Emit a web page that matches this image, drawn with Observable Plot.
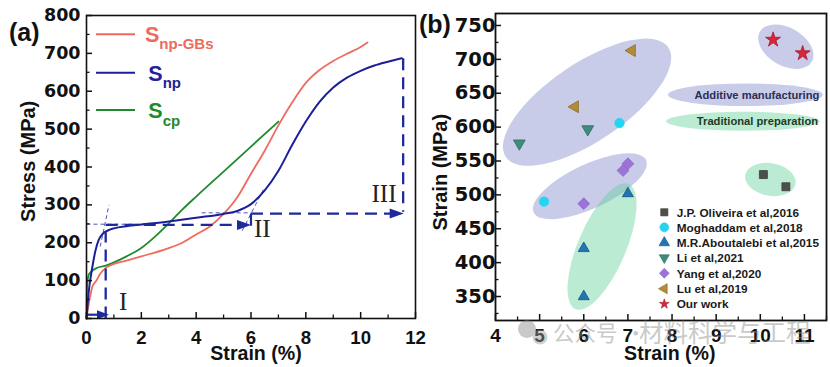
<!DOCTYPE html>
<html>
<head>
<meta charset="utf-8">
<script src="https://cdn.jsdelivr.net/npm/d3@7"></script>
<script src="https://cdn.jsdelivr.net/npm/@observablehq/plot@0.6"></script>
<style>
  html, body { margin: 0; padding: 0; background: #fff; }
  #wrap { position: relative; width: 830px; height: 367px; overflow: hidden; background: #fff; }
  #wrap > svg { position: absolute; top: 0; overflow: visible; }
</style>
</head>
<body>
<div id="wrap"></div>
<script>
// ================= Panel (a) data =================
const npgbStrain = [0, 0.1, 0.21, 0.36, 0.5, 0.73, 1, 1.46, 2, 2.92, 3.5, 4, 4.5, 5, 5.5, 6, 6.5, 7, 7.5, 8, 8.5, 9, 9.5, 10, 10.25];
const npgbStress = [0, 45, 83, 100, 118, 135, 144, 153, 164, 184, 200, 222, 243, 276, 320, 382, 443, 510, 570, 622, 656, 680, 699, 717, 729];
const npStrain = [0, 0.08, 0.2, 0.33, 0.45, 0.6, 0.8, 1, 1.5, 2, 3, 4, 5, 5.5, 6, 6.5, 7, 7.5, 8, 8.5, 9, 9.5, 10, 10.5, 11, 11.5];
const npStress = [0, 70, 130, 180, 208, 224, 233, 238, 244, 248, 256, 266, 276, 284, 302, 338, 390, 458, 520, 572, 610, 636, 654, 668, 678, 687];
const cpStrain = [0, 0.01, 0.03, 0.1, 0.4, 0.73, 1, 1.46, 2, 2.5, 2.92, 3.5, 4, 5, 6, 7];
const cpStress = [0, 60, 95, 118, 134, 140, 148, 164, 186, 216, 245, 288, 322, 388, 454, 520];
const curveNames = ["np-GBs", "np", "cp"];

// guide segments [x1, y1, x2, y2] in data units
const thickDashGuides = [[0.7, 0, 0.7, 228], [0.7, 247, 5.9, 247], [6.0, 277, 11.45, 277], [11.55, 687, 11.55, 282]];
const solidGuides = [[0, 10, 0.5, 10], [6.0, 245, 6.0, 277]];
const thinDashGuides = [[0.5, 190, 0.82, 300], [0, 249, 2.4, 249], [5.68, 232, 6.45, 340], [4.2, 279, 6.0, 279]];
const smallArrowTips = [[0.82, 10]];
const bigArrowTips = [[6.0, 247], [11.57, 277]];
const stageLabels = ["I", "II", "III"];
const stageX = [1.34, 6.41, 10.85];
const stageY = [43, 237, 329];

const aXTicks = [0, 2, 4, 6, 8, 10, 12];
const aXMinor = [1, 3, 5, 7, 9, 11];
const aYTicks = [0, 100, 200, 300, 400, 500, 600, 700, 800];
const aYMinor = [50, 150, 250, 350, 450, 550, 650, 750];

// ================= Panel (b) data =================
const refNames = ["J.P. Oliveira et al,2016", "Moghaddam et al,2018", "M.R.Aboutalebi et al,2015", "Li et al,2021", "Yang et al,2020", "Lu et al,2019", "Our work"];
const oliveiraX = [10.07, 10.58], oliveiraY = [530, 512];
const moghaddamX = [6.81, 5.10], moghaddamY = [606, 490];
const aboutalebiX = [7.0, 6.0, 6.0], aboutalebiY = [502, 421, 350];
const liX = [4.54, 6.09], liY = [576, 597];
const yangX = [6.0, 6.89, 7.0], yangY = [487, 536, 546];
const luX = [5.8, 7.09], luY = [630, 713];
const ourX = [10.29, 10.96], ourY = [729, 709];

// grouping ellipses (centre in data units; kind: am = additive manufacturing, tp = traditional)
const ellipseX = [6.086, 6.149, 6.425, 10.59, 10.24, 9.674, 9.618];
const ellipseY = [636, 512, 423, 718, 522, 647, 608];
const ellipseKind = ["am", "am", "tp", "am", "tp", "am", "tp"];
const groupNames = ["Additive manufacturing", "Traditional preparation"];

const bXTicks = [4, 5, 6, 7, 8, 9, 10, 11];
const bXMinor = [4.5, 5.5, 6.5, 7.5, 8.5, 9.5, 10.5, 11.5];
const bYTicks = [350, 400, 450, 500, 550, 600, 650, 700, 750];
const bYMinor = [325, 375, 425, 475, 525, 575, 625, 675, 725];

// ================= styles =================
const SANS = "Liberation Sans, Arial, sans-serif";
const WIDE = "DejaVu Sans, Verdana, sans-serif";
const cRed = "#f06a5d", cBlue = "#1c1f98", cGreen = "#1f8a2d", cGuide = "#1d2a9c";
const ellShape = { rx: [98, 62, 68, 30, 25.5, 77.5, 76.7], ry: [39, 22, 24, 19, 16.3, 11.3, 9.5], rot: [-34, -25, -67, 30, 10, 0, 0] };
const ellFill = { am: "#7b86c8", tp: "#5fcf95" };

// custom symbols
const arrowHead = (L, h) => ({ draw(ctx) { ctx.moveTo(0, 0); ctx.lineTo(-L, -h); ctx.lineTo(-L, h); ctx.closePath(); } });
const triDown = { draw(ctx, size) { const R = Math.sqrt(size), c = R * Math.cos(Math.PI / 6); ctx.moveTo(0, R); ctx.lineTo(-c, -R / 2); ctx.lineTo(c, -R / 2); ctx.closePath(); } };
const triLeft = { draw(ctx, size) { const R = Math.sqrt(size), c = R * Math.cos(Math.PI / 6); ctx.moveTo(-R, 0); ctx.lineTo(R / 2, -c); ctx.lineTo(R / 2, c); ctx.closePath(); } };

const series = [
  { name: refNames[0], xs: oliveiraX, ys: oliveiraY, symbol: d3.symbolSquare, fill: "#4b504d", stroke: "#3a3f3c", r: 4.5, lsize: 52 },
  { name: refNames[1], xs: moghaddamX, ys: moghaddamY, symbol: d3.symbolCircle, fill: "#25d5f0", stroke: "#25d5f0", r: 4.7, lsize: 62 },
  { name: refNames[2], xs: aboutalebiX, ys: aboutalebiY, symbol: d3.symbolTriangle, fill: "#2077b8", stroke: "#17507e", r: 4.1, lsize: 48 },
  { name: refNames[3], xs: liX, ys: liY, symbol: triDown, fill: "#3f8c7c", stroke: "#2f6a5e", r: 3.85, lsize: 34 },
  { name: refNames[4], xs: yangX, ys: yangY, symbol: d3.symbolDiamond2, fill: "#9c74d8", stroke: "#8a62c8", r: 5.3, lsize: 62 },
  { name: refNames[5], xs: luX, ys: luY, symbol: triLeft, fill: "#b38d35", stroke: "#8a6a22", r: 3.85, lsize: 34 },
  { name: refNames[6], xs: ourX, ys: ourY, symbol: d3.symbolStar, fill: "#d9263a", stroke: "#a8182a", r: 4.7, lsize: 30 }
];

const W = 415, H = 367;

// ================= Panel (a) =================
const aM = { top: 15, right: 0, bottom: 49, left: 86 };
const aIH = H - aM.top - aM.bottom, aIW = W - aM.left - aM.right;
const curveData = [
  d3.zip(npgbStrain, npgbStress).map(([x, y]) => ({ x, y, s: curveNames[0] })),
  d3.zip(npStrain, npStress).map(([x, y]) => ({ x, y, s: curveNames[1] })),
  d3.zip(cpStrain, cpStress).map(([x, y]) => ({ x, y, s: curveNames[2] }))
];
const seg = (arr) => arr.map(([x1, y1, x2, y2]) => ({ x1, y1, x2, y2 }));

const plotA = Plot.plot({
  width: W, height: H,
  marginTop: aM.top, marginRight: aM.right, marginBottom: aM.bottom, marginLeft: aM.left,
  x: { domain: [0, 12] },
  y: { domain: [0, 800] },
  style: { background: "transparent", overflow: "visible", fontFamily: SANS, color: "#111" },
  marks: [
    Plot.link(seg(thinDashGuides), { x1: "x1", y1: "y1", x2: "x2", y2: "y2", stroke: cGuide, strokeWidth: 1, strokeDasharray: "4,3", strokeOpacity: 0.8 }),
    Plot.line(curveData[2], { x: "x", y: "y", stroke: cGreen, strokeWidth: 1.8, curve: "monotone-x" }),
    Plot.line(curveData[0], { x: "x", y: "y", stroke: cRed, strokeWidth: 1.8, curve: "monotone-x" }),
    Plot.line(curveData[1], { x: "x", y: "y", stroke: cBlue, strokeWidth: 2, curve: "monotone-x" }),
    Plot.link(seg(thickDashGuides), { x1: "x1", y1: "y1", x2: "x2", y2: "y2", stroke: cGuide, strokeWidth: 2.3, strokeDasharray: "12,7" }),
    Plot.link(seg(solidGuides), { x1: "x1", y1: "y1", x2: "x2", y2: "y2", stroke: cGuide, strokeWidth: 2.2 }),
    Plot.dot(smallArrowTips, { x: d => d[0], y: d => d[1], symbol: arrowHead(12, 4.5), fill: cGuide, stroke: "none", r: 3 }),
    Plot.dot(bigArrowTips, { x: d => d[0], y: d => d[1], symbol: arrowHead(14, 5), fill: cGuide, stroke: "none", r: 3 }),
    Plot.text(stageLabels, { x: (d, i) => stageX[i], y: (d, i) => stageY[i], text: d => d, fontFamily: "Liberation Serif, Times New Roman, serif", fontSize: 25, fill: "#222" }),
    Plot.frame({ stroke: "#111", strokeWidth: 1.6 }),
    Plot.tickX(aXTicks, { x: d => d, insetTop: aIH - 6, stroke: "#111", strokeWidth: 1.5 }),
    Plot.tickX(aXMinor, { x: d => d, insetTop: aIH - 3.5, stroke: "#111", strokeWidth: 1.3 }),
    Plot.tickY(aYTicks, { y: d => d, insetRight: aIW - 6, stroke: "#111", strokeWidth: 1.5 }),
    Plot.tickY(aYMinor, { y: d => d, insetRight: aIW - 3.5, stroke: "#111", strokeWidth: 1.3 }),
    Plot.axisX({ ticks: aXTicks, tickSize: 0, tickPadding: 12, tickFormat: d => String(d), label: null, fontSize: 18.6, fontWeight: "bold", fontFamily: SANS, fill: "#111" }),
    Plot.axisY({ ticks: aYTicks, tickSize: 0, tickPadding: 6, tickFormat: d => String(d), label: null, fontSize: 17.5, fontWeight: "bold", fontFamily: WIDE, fill: "#111" }),
    Plot.text(["Strain (%)"], { text: d => d, frameAnchor: "bottom", textAnchor: "middle", lineAnchor: "middle", dx: 5, dy: 35.5, fontSize: 19.6, fontWeight: "bold", fontFamily: SANS, fill: "#111" }),
    Plot.text(["Stress (MPa)"], { text: d => d, frameAnchor: "left", textAnchor: "middle", lineAnchor: "middle", dx: -58, dy: -5.7, rotate: -90, fontSize: 20, fontWeight: "bold", fontFamily: SANS, fill: "#111" })
  ]
});

// ================= Panel (b) =================
const bM = { top: 13, right: 4, bottom: 47, left: 80 };
const bIH = H - bM.top - bM.bottom, bIW = W - bM.left - bM.right;

const ellipseLayer = (index, scales) => {
  const g = d3.create("svg:g");
  ellipseX.forEach((x, i) => {
    g.append("ellipse")
      .attr("transform", `translate(${scales.x(x)},${scales.y(ellipseY[i])}) rotate(${ellShape.rot[i]})`)
      .attr("rx", ellShape.rx[i]).attr("ry", ellShape.ry[i])
      .attr("fill", ellFill[ellipseKind[i]]).attr("fill-opacity", 0.42);
  });
  return g.node();
};

const pointMarks = series.map(s => Plot.dot(d3.zip(s.xs, s.ys), {
  x: d => d[0], y: d => d[1], symbol: s.symbol, r: s.r, fill: s.fill, stroke: s.stroke, strokeWidth: 0.8
}));

const plotB = Plot.plot({
  width: W, height: H,
  marginTop: bM.top, marginRight: bM.right, marginBottom: bM.bottom, marginLeft: bM.left,
  x: { domain: [4, 11.5] },
  y: { domain: [314.6, 767.7] },
  style: { background: "transparent", overflow: "visible", fontFamily: SANS, color: "#111" },
  marks: [
    ellipseLayer,
    Plot.text([groupNames[0]], { x: ellipseX[5], y: ellipseY[5], text: d => d, dx: 11, fontSize: 11.2, fontWeight: "bold", fontFamily: SANS, fill: "#2b2e58" }),
    Plot.text([groupNames[1]], { x: ellipseX[6], y: ellipseY[6], text: d => d, dx: 14, fontSize: 11.2, fontWeight: "bold", fontFamily: SANS, fill: "#1d3b24" }),
    ...pointMarks,
    Plot.frame({ stroke: "#111", strokeWidth: 1.8 }),
    Plot.tickX(bXTicks, { x: d => d, insetTop: bIH - 6, stroke: "#111", strokeWidth: 1.5 }),
    Plot.tickX(bXMinor, { x: d => d, insetTop: bIH - 3.5, stroke: "#111", strokeWidth: 1.3 }),
    Plot.tickY(bYTicks, { y: d => d, insetRight: bIW - 6, stroke: "#111", strokeWidth: 1.5 }),
    Plot.tickY(bYMinor, { y: d => d, insetRight: bIW - 3.5, stroke: "#111", strokeWidth: 1.3 }),
    Plot.axisX({ ticks: bXTicks, tickSize: 0, tickPadding: 8, tickFormat: d => String(d), label: null, fontSize: 19, fontWeight: "bold", fontFamily: SANS, fill: "#111" }),
    Plot.axisY({ ticks: bYTicks, tickSize: 0, tickPadding: 0, tickFormat: d => String(d), label: null, fontSize: 19.5, fontWeight: "bold", fontFamily: WIDE, fill: "#111" }),
    Plot.text(["Strain (%)"], { text: d => d, frameAnchor: "bottom", textAnchor: "middle", lineAnchor: "middle", dx: 8.8, dy: 33, fontSize: 19.6, fontWeight: "bold", fontFamily: SANS, fill: "#111" }),
    Plot.text(["Strain (MPa)"], { text: d => d, frameAnchor: "left", textAnchor: "middle", lineAnchor: "middle", dx: -55, dy: 5.2, rotate: -90, fontSize: 20, fontWeight: "bold", fontFamily: SANS, fill: "#111" })
  ]
});

const wrap = document.getElementById("wrap");
plotA.style.left = "0px";
plotB.style.left = "415px";
wrap.appendChild(plotA);
wrap.appendChild(plotB);

// ================= overlay: panel letters, legends, watermark =================
const ov = d3.create("svg").attr("width", 830).attr("height", 367).style("left", "0px").style("pointer-events", "none");

ov.append("text").attr("x", 9).attr("y", 41).text("(a)")
  .attr("font-family", SANS).attr("font-size", 25).attr("font-weight", "bold").attr("fill", "#111");
ov.append("text").attr("x", 419).attr("y", 33).text("(b)")
  .attr("font-family", SANS).attr("font-size", 25).attr("font-weight", "bold").attr("fill", "#111");

// legend (a)
const legA = [
  { sub: curveNames[0], color: cRed, text: "#ec6a5e", ly: 34.3, sx: 145, sb: 41.7 },
  { sub: curveNames[1], color: cBlue, text: "#1f229c", ly: 72.7, sx: 148.3, sb: 80.7 },
  { sub: curveNames[2], color: cGreen, text: "#1f8a2d", ly: 110, sx: 148.3, sb: 118.3 }
];
legA.forEach(d => {
  ov.append("line").attr("x1", 96).attr("x2", 135).attr("y1", d.ly).attr("y2", d.ly).attr("stroke", d.color).attr("stroke-width", 2);
  const t = ov.append("text").attr("x", d.sx).attr("y", d.sb).attr("font-family", SANS).attr("font-weight", "bold").attr("fill", d.text);
  t.append("tspan").attr("font-size", 21.5).text("S");
  t.append("tspan").attr("font-size", 15).attr("dy", 7.6).text(d.sub);
});

// legend (b)
const legRows = [212.3, 227.3, 242.7, 257.7, 273.3, 288.7, 304];
series.forEach((s, i) => {
  ov.append("path").attr("d", d3.symbol(s.symbol, s.lsize)())
    .attr("transform", `translate(664.3,${legRows[i]})`)
    .attr("fill", s.fill).attr("stroke", s.stroke).attr("stroke-width", 0.6);
  ov.append("text").attr("x", 676.7).attr("y", legRows[i]).attr("dy", "0.36em").text(s.name)
    .attr("font-family", SANS).attr("font-size", 11.8).attr("font-weight", "bold").attr("fill", "#1a1a1a");
});

// watermark
const wm = ov.append("g").attr("opacity", 0.45);
wm.append("circle").attr("cx", 527).attr("cy", 329).attr("r", 9).attr("fill", "#8a8a8a");
wm.append("circle").attr("cx", 540).attr("cy", 337).attr("r", 7.5).attr("fill", "#9a9a9a");
wm.append("text").attr("x", 553).attr("y", 341).text("公众号")
  .attr("font-family", "Noto Sans CJK SC, sans-serif").attr("font-size", 21.5).attr("fill", "#8a8a8a");
wm.append("text").attr("x", 625).attr("y", 341).text("·")
  .attr("font-family", "Noto Sans CJK SC, sans-serif").attr("font-size", 21.5).attr("fill", "#8a8a8a");
wm.append("text").attr("x", 639).attr("y", 342).text("材料科学与工程")
  .attr("font-family", "Noto Sans CJK SC, sans-serif").attr("font-size", 24.5).attr("fill", "#8a8a8a");

wrap.appendChild(ov.node());
</script>
</body>
</html>
